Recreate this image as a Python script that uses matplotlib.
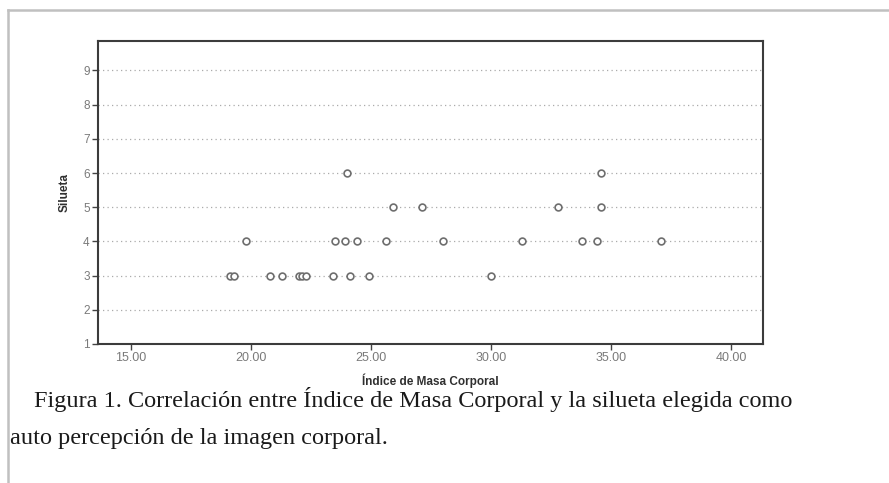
import matplotlib
matplotlib.use("Agg")
import matplotlib.pyplot as plt
from matplotlib.lines import Line2D

# body mass index vs chosen silhouette
imc = [24.0, 34.6,
       25.9, 27.1, 32.8, 34.6,
       19.8, 23.5, 23.9, 24.4, 25.6, 28.0, 31.3, 33.8, 34.4, 37.1,
       19.1, 19.3, 20.8, 21.3, 22.0, 22.1, 22.3, 23.4, 24.1, 24.9, 30.0]
silueta = [6, 6,
           5, 5, 5, 5,
           4, 4, 4, 4, 4, 4, 4, 4, 4, 4,
           3, 3, 3, 3, 3, 3, 3, 3, 3, 3, 3]

x_ticks = [15, 20, 25, 30, 35, 40]
y_ticks = [1, 2, 3, 4, 5, 6, 7, 8, 9]
caption_1 = "Figura 1. Correlación entre Índice de Masa Corporal y la silueta elegida como"
caption_2 = "auto percepción de la imagen corporal."

fig = plt.figure(figsize=(8.89, 4.83), dpi=100)

# page frame around the figure
fig.add_artist(Line2D([8 / 889, 1.0], [1 - 10 / 483, 1 - 10 / 483],
                      transform=fig.transFigure, color="#c0c0c0", lw=1.8))
fig.add_artist(Line2D([8 / 889, 8 / 889], [0.0, 1 - 10 / 483],
                      transform=fig.transFigure, color="#c0c0c0", lw=1.8))

ax = fig.add_axes([98 / 889, 1 - 344 / 483, 665 / 889, 303 / 483])
ax.set_xlim(13.62, 41.33)
ax.set_ylim(1, 9.86)

for y in y_ticks[1:]:
    ax.axhline(y, color="#ababab", lw=0.9, ls=(0, (1, 2.6)), zorder=1)

ax.scatter(imc, silueta, s=24, facecolors="white", edgecolors="#6e6e6e",
           linewidths=1.2, zorder=3)

ax.set_xticks(x_ticks)
ax.set_xticklabels([f"{v:.2f}" for v in x_ticks])
ax.set_yticks(y_ticks)
ax.tick_params(axis="both", direction="out", length=4, width=1, color="#444444",
               labelcolor="#7a7a7a", pad=2)
ax.tick_params(axis="x", labelsize=9)
ax.tick_params(axis="y", labelsize=8.5)
for sp in ax.spines.values():
    sp.set_color("#3c3c3c")
    sp.set_linewidth(1.5)

ax.set_xlabel("Índice de Masa Corporal", fontsize=8.5, fontweight="bold",
              color="#303030", family="Liberation Sans", va="center")
ax.set_ylabel("Silueta", fontsize=8.5, fontweight="bold", color="#303030",
              family="Liberation Sans", va="center")
ax.xaxis.set_label_coords(0.5, -0.12)
ax.yaxis.set_label_coords(-0.05, 0.5)
for lab in ax.get_xticklabels() + ax.get_yticklabels():
    lab.set_family("Liberation Sans")

fig.text(34 / 889, 1 - 407 / 483, caption_1, family="Liberation Serif",
         fontsize=17.5, color="#1a1a1a", va="baseline", ha="left")
fig.text(10 / 889, 1 - 444 / 483, caption_2, family="Liberation Serif",
         fontsize=17.5, color="#1a1a1a", va="baseline", ha="left")

fig.savefig("out.png", dpi=100)
